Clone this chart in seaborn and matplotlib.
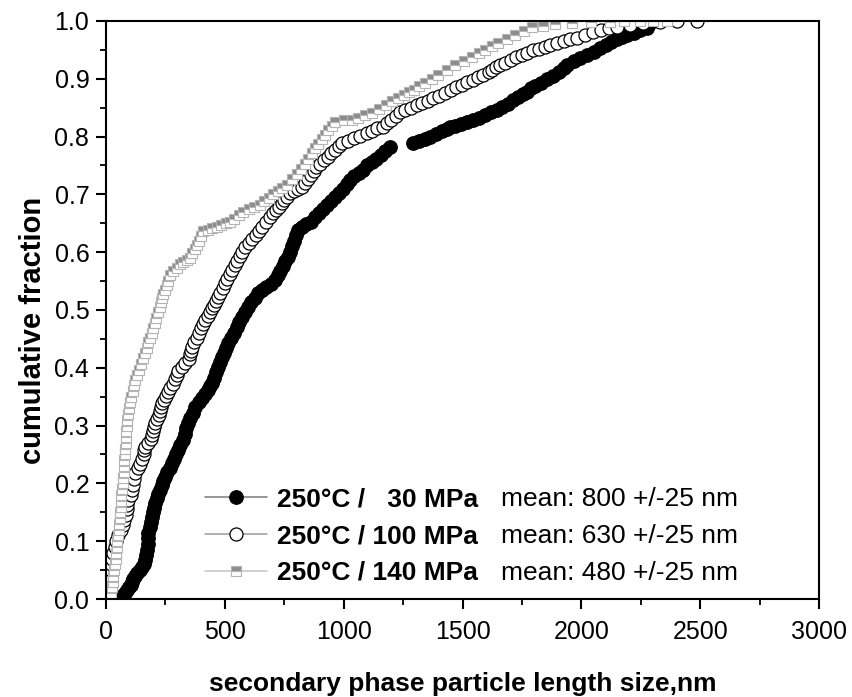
import matplotlib
matplotlib.use("Agg")
import matplotlib.pyplot as plt
import seaborn as sns
import pandas as pd
from matplotlib.lines import Line2D
from matplotlib.ticker import MultipleLocator

# ---- data (particle length in nm, cumulative fraction) ----
y_30 = [0.000, 0.005, 0.010, 0.015, 0.020, 0.025, 0.030, 0.035, 0.040, 0.045, 0.050, 0.055,
        0.060, 0.068, 0.076, 0.085, 0.095, 0.105, 0.114, 0.124, 0.133, 0.142, 0.150, 0.158,
        0.166, 0.175, 0.182, 0.189, 0.197, 0.204, 0.211, 0.219, 0.227, 0.235, 0.243, 0.250,
        0.258, 0.266, 0.275, 0.285, 0.295, 0.304, 0.313, 0.322, 0.332, 0.340, 0.348, 0.355,
        0.362, 0.368, 0.374, 0.383, 0.392, 0.401, 0.410, 0.418, 0.426, 0.435, 0.443, 0.452,
        0.461, 0.470, 0.479, 0.488, 0.496, 0.505, 0.513, 0.521, 0.529, 0.534, 0.539, 0.545,
        0.552, 0.560, 0.568, 0.576, 0.584, 0.592, 0.601, 0.610, 0.620, 0.629, 0.638, 0.643,
        0.648, 0.653, 0.661, 0.668, 0.675, 0.682, 0.689, 0.696, 0.703, 0.710, 0.718, 0.725,
        0.731, 0.737, 0.743, 0.750, 0.756, 0.762, 0.768, 0.775, 0.782, 0.789, 0.792, 0.796,
        0.800, 0.804, 0.809, 0.813, 0.817, 0.819, 0.822, 0.825, 0.829, 0.833, 0.837, 0.842,
        0.846, 0.851, 0.857, 0.863, 0.868, 0.873, 0.877, 0.884, 0.888, 0.893, 0.899, 0.905,
        0.912, 0.918, 0.924, 0.930, 0.936, 0.942, 0.947, 0.953, 0.958, 0.963, 0.968, 0.972,
        0.976, 0.980, 0.984, 0.988, 0.994, 1.000]
x_30 = [59, 66, 80, 90, 98, 104, 108, 112, 120, 132, 142, 151,
        158, 165, 170, 173, 175, 176, 177, 183, 189, 194, 199, 203,
        206, 213, 220, 227, 234, 241, 248, 258, 268, 278, 286, 295,
        303, 313, 324, 331, 338, 345, 355, 365, 375, 390, 405, 417,
        429, 438, 446, 455, 464, 472, 481, 490, 498, 506, 513, 525,
        537, 549, 561, 572, 585, 598, 612, 626, 640, 657, 675, 693,
        711, 722, 733, 744, 755, 766, 775, 783, 792, 800, 808, 825,
        843, 861, 880, 897, 914, 930, 947, 964, 980, 996, 1012, 1027,
        1045, 1063, 1081, 1100, 1118, 1137, 1155, 1175, 1195, 1292, 1315, 1340,
        1365, 1390, 1415, 1435, 1448, 1470, 1495, 1519, 1545, 1570, 1595, 1620,
        1645, 1667, 1690, 1712, 1735, 1755, 1772, 1790, 1805, 1830, 1855, 1880,
        1905, 1925, 1940, 1968, 1996, 2024, 2052, 2079, 2103, 2126, 2148, 2170,
        2192, 2220, 2248, 2277, 2285, 2290]

y_100 = [0.000, 0.010, 0.020, 0.030, 0.040, 0.050, 0.060, 0.070, 0.080, 0.090, 0.100, 0.110,
         0.119, 0.128, 0.137, 0.146, 0.155, 0.163, 0.171, 0.180, 0.189, 0.198, 0.208, 0.218,
         0.226, 0.234, 0.242, 0.250, 0.257, 0.263, 0.270, 0.277, 0.284, 0.291, 0.298, 0.304,
         0.311, 0.318, 0.325, 0.332, 0.339, 0.345, 0.351, 0.358, 0.365, 0.372, 0.380, 0.388,
         0.395, 0.402, 0.409, 0.416, 0.423, 0.429, 0.436, 0.444, 0.452, 0.460, 0.468, 0.476,
         0.483, 0.490, 0.496, 0.503, 0.509, 0.516, 0.522, 0.530, 0.538, 0.546, 0.554, 0.562,
         0.569, 0.577, 0.585, 0.593, 0.601, 0.609, 0.616, 0.623, 0.630, 0.637, 0.644, 0.652,
         0.661, 0.667, 0.673, 0.679, 0.685, 0.690, 0.696, 0.702, 0.706, 0.710, 0.713, 0.720,
         0.727, 0.734, 0.740, 0.747, 0.753, 0.759, 0.765, 0.771, 0.777, 0.783, 0.789, 0.793,
         0.797, 0.801, 0.806, 0.810, 0.814, 0.817, 0.823, 0.829, 0.836, 0.842, 0.846, 0.850,
         0.854, 0.858, 0.862, 0.867, 0.871, 0.875, 0.880, 0.885, 0.889, 0.894, 0.898, 0.903,
         0.907, 0.911, 0.916, 0.920, 0.924, 0.928, 0.932, 0.937, 0.941, 0.945, 0.949, 0.952,
         0.955, 0.958, 0.962, 0.965, 0.968, 0.971, 0.976, 0.981, 0.984, 0.987, 0.990, 0.993,
         0.996, 0.998, 1.000, 1.000]
x_100 = [4, 8, 11, 14, 17, 20, 23, 26, 30, 36, 43, 52,
         62, 70, 77, 83, 87, 90, 93, 103, 111, 114, 118, 122,
         134, 145, 153, 158, 161, 164, 178, 188, 192, 198, 202, 206,
         215, 222, 227, 231, 236, 245, 253, 261, 269, 280, 290, 297,
         303, 318, 333, 347, 355, 357, 362, 372, 382, 392, 401, 409,
         417, 427, 437, 446, 455, 463, 471, 481, 491, 501, 511, 521,
         530, 541, 552, 563, 574, 585, 600, 614, 629, 643, 657, 672,
         689, 702, 715, 728, 741, 750, 762, 774, 791, 808, 825, 837,
         849, 861, 873, 885, 900, 916, 932, 948, 963, 979, 994, 1020,
         1045, 1070, 1096, 1119, 1142, 1165, 1183, 1201, 1219, 1237, 1260, 1284,
         1307, 1330, 1353, 1376, 1400, 1425, 1450, 1473, 1496, 1519, 1542, 1565,
         1588, 1611, 1625, 1642, 1658, 1680, 1703, 1726, 1749, 1772, 1796, 1820,
         1845, 1869, 1897, 1926, 1954, 1982, 2016, 2050, 2083, 2116, 2150, 2205,
         2260, 2330, 2403, 2487]

y_140 = [0.000, 0.010, 0.020, 0.030, 0.040, 0.050, 0.060, 0.070, 0.080, 0.090, 0.100, 0.110,
         0.120, 0.130, 0.140, 0.150, 0.160, 0.170, 0.180, 0.190, 0.200, 0.210, 0.220, 0.230,
         0.240, 0.250, 0.260, 0.270, 0.280, 0.290, 0.300, 0.310, 0.320, 0.330, 0.340, 0.350,
         0.360, 0.370, 0.379, 0.388, 0.397, 0.407, 0.417, 0.426, 0.435, 0.444, 0.452, 0.461,
         0.469, 0.478, 0.487, 0.496, 0.505, 0.514, 0.521, 0.527, 0.535, 0.543, 0.551, 0.561,
         0.567, 0.573, 0.579, 0.583, 0.587, 0.590, 0.598, 0.606, 0.613, 0.620, 0.628, 0.636,
         0.639, 0.642, 0.644, 0.647, 0.650, 0.653, 0.658, 0.664, 0.670, 0.674, 0.678, 0.682,
         0.688, 0.694, 0.700, 0.706, 0.711, 0.717, 0.726, 0.735, 0.744, 0.752, 0.762, 0.772,
         0.781, 0.788, 0.796, 0.803, 0.811, 0.818, 0.826, 0.828, 0.829, 0.833, 0.837, 0.841,
         0.848, 0.855, 0.861, 0.867, 0.872, 0.877, 0.881, 0.887, 0.893, 0.900, 0.907, 0.915,
         0.924, 0.931, 0.938, 0.944, 0.950, 0.956, 0.962, 0.969, 0.976, 0.982, 0.989, 0.992,
         0.995, 0.997, 0.998, 0.999, 1.000, 1.000, 1.000, 1.000]
x_140 = [18, 22, 25, 28, 31, 35, 38, 40, 42, 45, 48, 50,
         53, 55, 57, 59, 61, 63, 65, 67, 70, 72, 74, 76,
         77, 78, 80, 82, 84, 86, 88, 90, 93, 97, 101, 105,
         112, 118, 122, 131, 140, 148, 156, 164, 171, 178, 185, 192,
         198, 205, 212, 219, 226, 232, 236, 240, 248, 255, 262, 269,
         283, 297, 311, 325, 339, 353, 363, 373, 383, 392, 400, 408,
         428, 447, 467, 485, 503, 522, 540, 558, 577, 600, 624, 648,
         666, 685, 703, 722, 742, 762, 784, 805, 820, 837, 851, 865,
         879, 893, 908, 922, 936, 950, 964, 1000, 1035, 1060, 1090, 1119,
         1148, 1176, 1204, 1230, 1255, 1275, 1295, 1318, 1342, 1370, 1397, 1433,
         1469, 1505, 1540, 1568, 1595, 1622, 1650, 1685, 1721, 1757, 1793, 1840,
         1889, 1960, 2040, 2121, 2180, 2247, 2300, 2361]

labels = ["250\u00b0C /   30 MPa", "250\u00b0C / 100 MPa", "250\u00b0C / 140 MPa"]
means = ["mean: 800 +/-25 nm", "mean: 630 +/-25 nm", "mean: 480 +/-25 nm"]
x_ticks = [0, 500, 1000, 1500, 2000, 2500, 3000]
y_ticks = [0.0, 0.1, 0.2, 0.3, 0.4, 0.5, 0.6, 0.7, 0.8, 0.9, 1.0]

sns.set_theme(style="ticks")
plt.rcParams["font.family"] = ["Liberation Sans", "DejaVu Sans"]
plt.rcParams.update({"text.color": "black", "axes.labelcolor": "black",
                     "xtick.color": "black", "ytick.color": "black",
                     "axes.edgecolor": "black"})

fig = plt.figure(figsize=(8.53, 6.97), dpi=100)
ax = fig.add_axes([0.1243, 0.1406, 0.8359, 0.8293])

styles = [
    dict(marker="o", markersize=9.8, markerfacecolor="black", markeredgecolor="black",
         markeredgewidth=0.8),
    dict(marker="o", markersize=9.4, markerfacecolor="white", markeredgecolor="black",
         markeredgewidth=0.9),
    dict(marker="s", markersize=7.3, fillstyle="top", markerfacecolor="#8c8c8c",
         markerfacecoloralt="white", markeredgecolor="#b4b4b4", markeredgewidth=0.8),
]
series = [(x_30, y_30), (x_100, y_100), (x_140, y_140)]
for (xs, ys), st in zip(series, styles):
    df = pd.DataFrame({"x": xs, "y": ys})
    sns.lineplot(data=df, x="x", y="y", ax=ax, estimator=None, sort=False,
                 linestyle="", color="black", **st)

ax.set_xlim(0, 3000)
ax.set_ylim(0, 1.0)
ax.set_xticks(x_ticks)
ax.set_yticks(y_ticks)
ax.xaxis.set_minor_locator(MultipleLocator(250))
ax.yaxis.set_minor_locator(MultipleLocator(0.05))
ax.set_xticklabels([str(t) for t in x_ticks], fontsize=18, color="black")
ax.set_yticklabels([f"{t:.1f}" for t in y_ticks], fontsize=18, color="black")
ax.tick_params(axis="both", which="major", direction="out", length=7, width=1.5,
               colors="black")
ax.tick_params(axis="x", which="major", pad=8)
ax.tick_params(axis="y", which="major", pad=5)
ax.tick_params(axis="both", which="minor", direction="out", length=4.3, width=1.3,
               colors="black")
for sp in ax.spines.values():
    sp.set_visible(True)
    sp.set_linewidth(1.5)
    sp.set_color("black")

ax.set_xlabel("secondary phase particle length size,nm", fontsize=19, fontweight="bold",
              color="black")
ax.set_ylabel("cumulative fraction", fontsize=21, fontweight="bold", color="black")
ax.xaxis.set_label_coords(0.5, -0.127)
ax.yaxis.set_label_coords(-0.083, 0.465)

handles = []
for st, lc in zip(styles, ["#7a7a7a", "#9a9a9a", "#c4c4c4"]):
    handles.append(Line2D([], [], color=lc, linewidth=1.1, **st))
leg1 = ax.legend(handles, labels, loc="upper left", bbox_to_anchor=(0.139, 0.193),
                 frameon=False, prop=dict(weight="bold", size=19), handlelength=2.35,
                 handletextpad=0.38, labelspacing=0.48, borderaxespad=0, borderpad=0)
for t in leg1.get_texts():
    t.set_color("black")
ax.add_artist(leg1)
blank = [Line2D([], [], linestyle="", marker="") for _ in means]
leg2 = ax.legend(blank, means, loc="upper left", bbox_to_anchor=(0.554, 0.193),
                 frameon=False, prop=dict(size=19), handlelength=0, handletextpad=0,
                 labelspacing=0.48, borderaxespad=0, borderpad=0)
for t in leg2.get_texts():
    t.set_color("black")

fig.savefig("out.png", dpi=100)
